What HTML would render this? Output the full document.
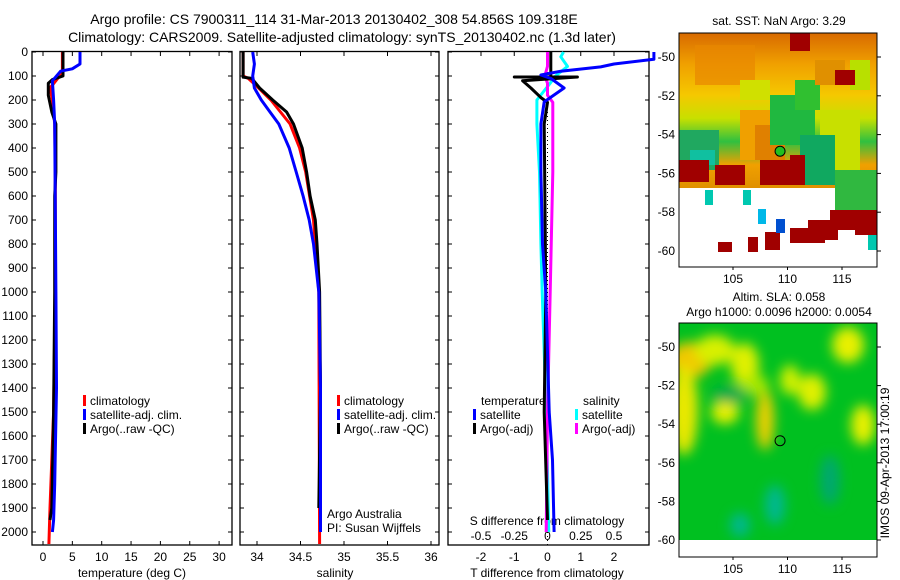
<!DOCTYPE html>
<html><head><meta charset="utf-8"><style>
html,body{margin:0;padding:0;background:#fff;}
svg{display:block;font-family:"Liberation Sans",sans-serif;}
text{font-size:12px;fill:#000;}
</style></head><body>
<svg id="c" width="900" height="580" viewBox="0 0 900 580" xmlns="http://www.w3.org/2000/svg">
<defs>
<linearGradient id="sstg" x1="0" y1="0" x2="0" y2="1">
<stop offset="0" stop-color="#d86a00"/><stop offset="0.2" stop-color="#f0a000"/><stop offset="0.4" stop-color="#f5c800"/><stop offset="0.55" stop-color="#c8e000"/><stop offset="0.7" stop-color="#30c040"/><stop offset="0.85" stop-color="#f0a000"/><stop offset="1" stop-color="#e09000"/>
</linearGradient>
<filter id="bl"><feGaussianBlur stdDeviation="6"/></filter>
<clipPath id="m2c"><rect x="679" y="323" width="198" height="220"/></clipPath>
<clipPath id="m1c"><rect x="679" y="33" width="198" height="234"/></clipPath>
</defs>
<text x="334" y="24" text-anchor="middle" style="font-size:14px">Argo profile: CS 7900311_114 31-Mar-2013 20130402_308 54.856S 109.318E</text>
<text x="342" y="42" text-anchor="middle" style="font-size:14px">Climatology: CARS2009. Satellite-adjusted climatology: synTS_20130402.nc (1.3d later)</text>
<g id="g"></g>
<!-- SST map -->
<g clip-path="url(#m1c)">
<rect x="679" y="33" width="198" height="234" fill="#fff"/>
<rect x="679" y="33" width="198" height="155" fill="url(#sstg)"/>
<rect x="695" y="45" width="60" height="40" fill="#e88800" opacity="0.7"/>
<rect x="740" y="80" width="30" height="20" fill="#d0e000"/>
<rect x="740" y="110" width="40" height="50" fill="#f0a000"/>
<rect x="755" y="125" width="30" height="35" fill="#e08000"/>
<rect x="770" y="95" width="45" height="50" fill="#20b840"/>
<rect x="795" y="80" width="25" height="30" fill="#30c030"/>
<rect x="679" y="130" width="40" height="40" fill="#20a860"/>
<rect x="690" y="150" width="25" height="15" fill="#10c0a0"/>
<rect x="820" y="110" width="40" height="60" fill="#c8e000"/>
<rect x="800" y="135" width="35" height="50" fill="#10a860"/>
<rect x="835" y="170" width="42" height="40" fill="#30b840"/>
<rect x="850" y="60" width="20" height="30" fill="#b8e000"/>
<rect x="815" y="60" width="30" height="25" fill="#e09000"/>
<rect x="679" y="160" width="30" height="22" fill="#a00000"/>
<rect x="715" y="165" width="30" height="20" fill="#a00000"/>
<rect x="760" y="160" width="30" height="25" fill="#a00000"/>
<rect x="790" y="155" width="15" height="30" fill="#a00000"/>
<rect x="790" y="33" width="20" height="18" fill="#a00000"/>
<rect x="835" y="70" width="20" height="15" fill="#a00000"/>
<rect x="855" y="210" width="22" height="25" fill="#a00000"/>
<rect x="830" y="210" width="25" height="20" fill="#a00000"/>
<rect x="808" y="220" width="30" height="20" fill="#a00000"/>
<rect x="790" y="228" width="35" height="15" fill="#a00000"/>
<rect x="765" y="232" width="15" height="18" fill="#a00000"/>
<rect x="718" y="242" width="14" height="10" fill="#a00000"/>
<rect x="748" y="237" width="10" height="15" fill="#a00000"/>
<rect x="705" y="190" width="8" height="15" fill="#00c8b0"/>
<rect x="743" y="190" width="8" height="15" fill="#00c8b0"/>
<rect x="758" y="209" width="8" height="15" fill="#00b8e8"/>
<rect x="776" y="219" width="9" height="14" fill="#0050d0"/>
<rect x="868" y="235" width="9" height="15" fill="#00c8b0"/>
</g>
<!-- SLA map -->
<g clip-path="url(#m2c)">
<rect x="679" y="323" width="198" height="220" fill="#00c020"/>
<g filter="url(#bl)">
<ellipse cx="690" cy="360" rx="22" ry="18" fill="#f0c800"/>
<ellipse cx="684" cy="410" rx="14" ry="45" fill="#e8e800"/>
<ellipse cx="715" cy="350" rx="20" ry="15" fill="#d8f000"/>
<ellipse cx="745" cy="365" rx="14" ry="22" fill="#e0f000"/>
<ellipse cx="725" cy="412" rx="14" ry="12" fill="#e8f000"/>
<ellipse cx="765" cy="420" rx="9" ry="30" fill="#f0d000"/>
<ellipse cx="755" cy="385" rx="14" ry="10" fill="#a8e800"/>
<ellipse cx="790" cy="380" rx="10" ry="15" fill="#d0f000"/>
<ellipse cx="812" cy="392" rx="14" ry="18" fill="#e0f000"/>
<ellipse cx="848" cy="345" rx="16" ry="18" fill="#e8f000"/>
<ellipse cx="863" cy="425" rx="12" ry="20" fill="#e8f000"/>
<ellipse cx="730" cy="395" rx="18" ry="8" fill="#00a850"/>
<ellipse cx="775" cy="505" rx="10" ry="20" fill="#00b890"/>
<ellipse cx="740" cy="525" rx="10" ry="12" fill="#00b890"/>
<ellipse cx="830" cy="480" rx="10" ry="25" fill="#00a870"/>
</g>
<rect x="679" y="540" width="198" height="20" fill="#fff"/>
</g>
</svg>
<script>
// ---- data ----
var depTclim=[0,90,110,150,200,300,500,1000,1500,1900,2050];
var valTclim=[3.3,3.3,2.5,1.2,1.6,2.0,2.1,2.1,1.8,1.2,1.0];
var depTsat=[0,50,70,80,120,200,300,1000,1400,1800,1950,2000];
var valTsat=[6.3,6.3,5.0,3.0,1.6,1.8,2.0,2.2,2.3,2.0,1.8,1.6];
var depTargo=[0,100,115,130,180,250,300,500,600,1000,1500,1900,1950];
var valTargo=[3.4,3.4,1.6,0.9,0.9,1.5,2.2,2.2,2.0,2.0,1.8,1.5,1.2];
var depSclim=[0,100,110,150,200,300,400,500,700,1000,2050];
var valSclim=[33.84,33.84,33.9,34.02,34.16,34.38,34.49,34.56,34.65,34.71,34.72];
var depSsat=[0,50,100,150,200,250,300,400,500,600,700,800,1000,1400,2000];
var valSsat=[33.95,33.97,33.95,33.97,34.05,34.15,34.25,34.37,34.45,34.53,34.6,34.65,34.71,34.73,34.73];
var depSargo=[0,105,110,150,200,250,300,400,500,600,700,800,1000,1400,1900];
var valSargo=[33.84,33.84,33.94,34.03,34.18,34.34,34.42,34.52,34.57,34.61,34.67,34.69,34.72,34.73,34.71];
var depDTsat=[0,30,50,62,80,96,110,150,208,300,500,800,1000,1500,1700,2000];
var valDTsat=[3.2,3.2,2.0,1.6,0.4,-0.2,0.1,0.5,-0.1,-0.2,-0.2,-0.15,-0.05,0.05,0.15,0.2];
var depDTargo=[0,100,104,104,104,120,150,190,210,300,1000,1500,1950];
var valDTargo=[0.1,0.1,0.1,-1.0,0.9,-0.75,-0.5,-0.2,0,-0.1,-0.05,-0.1,0];
var depDSsat=[0,20,60,100,130,200,300,500,800,1000,1500,2000];
var valDSsat=[0.12,0.1,0.15,0.06,0.02,-0.08,-0.08,-0.06,-0.05,-0.04,-0.01,0.01];
var depDSargo=[0,60,100,130,180,210,300,500,1000,1500,2000];
var valDSargo=[0,0,-0.02,0,0,0.04,0.04,0.04,0.02,0,-0.01];
var depthTicks=[0,100,200,300,400,500,600,700,800,900,1000,1100,1200,1300,1400,1500,1600,1700,1800,1900,2000];
var tTicks=[0,5,10,15,20,25,30];
var sTicks=[34,34.5,35,35.5,36];
var dTTicks=[-2,-1,0,1,2];
var dSTicks=[-0.5,-0.25,0,0.25,0.5];
var latTicks=[-50,-52,-54,-56,-58,-60];
var lonTicks=[105,110,115];

// ---- axes ----
var NS='http://www.w3.org/2000/svg';
var G=document.getElementById('g');
function yD(d){return 52+d*0.24;}
function xT(t){return 43+t*5.87;}
function xS(s){return 257+(s-34)*87;}
function xDT(d){return 547.5+d*33.25;}
function xDS(s){return 547.5+s*133;}
function el(tag,attrs,parent){var e=document.createElementNS(NS,tag);for(var k in attrs)e.setAttribute(k,attrs[k]);(parent||G).appendChild(e);return e;}
function txt(x,y,s,anchor,size){var t=el('text',{x:x,y:y,'text-anchor':anchor||'middle'});if(size)t.style.fontSize=size+'px';t.textContent=s;return t;}

function frame(x0,x1,y0,y1,name){
  var r=el('rect',{x:x0,y:y0,width:x1-x0,height:y1-y0,fill:'none',stroke:'#000','stroke-width':1.3});
  
  
}
var P=[[32,232],[240,439],[448,649]];
P.forEach(function(p,i){frame(p[0],p[1],51.5,545,'panel-'+(i+1)+'-frame');
  depthTicks.forEach(function(d){el('line',{x1:p[0],x2:p[0]+4,y1:yD(d),y2:yD(d),stroke:'#000'});el('line',{x1:p[1],x2:p[1]-4,y1:yD(d),y2:yD(d),stroke:'#000'});});
});
depthTicks.forEach(function(d){var t=txt(28,yD(d)+4,String(d),'end');});
tTicks.forEach(function(v){el('line',{x1:xT(v),x2:xT(v),y1:545,y2:541,stroke:'#000'});el('line',{x1:xT(v),x2:xT(v),y1:52,y2:56,stroke:'#000'});var t=txt(xT(v),561,String(v));});
sTicks.forEach(function(v){el('line',{x1:xS(v),x2:xS(v),y1:545,y2:541,stroke:'#000'});el('line',{x1:xS(v),x2:xS(v),y1:52,y2:56,stroke:'#000'});var t=txt(xS(v),561,String(v));});
dTTicks.forEach(function(v){el('line',{x1:xDT(v),x2:xDT(v),y1:52,y2:56,stroke:'#000'});var t=txt(xDT(v),561,String(v));});
dSTicks.forEach(function(v){var t=txt(xDS(v),540,String(v));});
var a;
a=txt(132,577,'temperature (deg C)');
a=txt(335,577,'salinity');
a=txt(547,577,'T difference from climatology');
a=txt(547,525,'S difference from climatology');
el('line',{x1:xDT(0),x2:xDT(0),y1:52,y2:545,stroke:'#000','stroke-dasharray':'1,3'});

function series(dep,val,xf,color,w,name){
  var pts=dep.map(function(d,i){return xf(val[i]).toFixed(1)+','+yD(d).toFixed(1);}).join(' ');
  var p=el('polyline',{points:pts,fill:'none',stroke:color,'stroke-width':w,'stroke-linejoin':'round'});
  
  
}
series(depTclim,valTclim,xT,'#f00',3,'temp-climatology-line');
series(depTargo,valTargo,xT,'#000',3,'temp-argo-line');
series(depTsat,valTsat,xT,'#00f',3,'temp-satellite-line');
series(depSclim,valSclim,xS,'#f00',3,'sal-climatology-line');
series(depSargo,valSargo,xS,'#000',3,'sal-argo-line');
series(depSsat,valSsat,xS,'#00f',3,'sal-satellite-line');
series(depDSsat,valDSsat,xDS,'#0ff',3,'sdiff-satellite-line');
series(depDSargo,valDSargo,xDS,'#f0f',3,'sdiff-argo-line');
series(depDTargo,valDTargo,xDT,'#000',3,'tdiff-argo-line');
series(depDTsat,valDTsat,xDT,'#00f',3,'tdiff-satellite-line');

function leg(x,y,color,label,name){
  el('rect',{x:x,y:y-10,width:3,height:11,fill:color});
  var t=txt(x+7,y,label,'start');
  
  
}
[83,337].forEach(function(x,i){
  leg(x,405,'#f00','climatology','legend-climatology-'+(i+1));
  leg(x,419,'#00f','satellite-adj. clim.','legend-satellite-'+(i+1));
  leg(x,433,'#000','Argo(..raw -QC)','legend-argo-'+(i+1));
});
a=txt(481,405,'temperature','start');
a=txt(583,405,'salinity','start');
leg(473,419,'#00f','satellite','legend-tdiff-satellite');
leg(473,433,'#000','Argo(-adj)','legend-tdiff-argo');
leg(575,419,'#0ff','satellite','legend-sdiff-satellite');
leg(575,433,'#f0f','Argo(-adj)','legend-sdiff-argo');
a=txt(327,518,'Argo Australia','start');
a=txt(327,532,'PI: Susan Wijffels','start');

// ---- maps ----
function yLat1(l){return 57+(-50-l)*19.4;}
function yLat2(l){return 347+(-50-l)*19.3;}
function xLon(l){return 733+(l-105)*10.9;}
var svg=document.getElementById('c');
function mapAxes(y0,y1,yl,name){
  var r=el('rect',{x:679,y:y0,width:198,height:y1-y0,fill:'none',stroke:'#000','stroke-width':1},svg);
  
  
  latTicks.forEach(function(l){el('line',{x1:877,x2:881,y1:yl(l),y2:yl(l),stroke:'#000'},svg);var t=el('text',{x:675,y:yl(l)+4,'text-anchor':'end'},svg);t.textContent=String(l);});
  lonTicks.forEach(function(l){el('line',{x1:xLon(l),x2:xLon(l),y1:y1,y2:y1+3,stroke:'#000'},svg);var t=el('text',{x:xLon(l),y:y1+16,'text-anchor':'middle'},svg);t.textContent=String(l);});
}
mapAxes(33,267,yLat1,'sst-map-frame');
mapAxes(323,557,yLat2,'sla-map-frame');
var argoLat=-54.856, argoLon=109.318;
var c1=el('circle',{cx:xLon(argoLon),cy:yLat1(argoLat),r:5,fill:'#20c020',stroke:'#000'},svg);


var c2=el('circle',{cx:xLon(argoLon),cy:yLat2(argoLat),r:5,fill:'none',stroke:'#000'},svg);


function st(x,y,s,name){var t=el('text',{x:x,y:y,'text-anchor':'middle'},svg);t.textContent=s;return t;}
st(779,25,'sat. SST: NaN Argo: 3.29','sst-map-title');
st(779,301,'Altim. SLA: 0.058','sla-map-title');
st(779,316,'Argo h1000: 0.0096 h2000: 0.0054','sla-map-subtitle');
var v=el('text',{x:0,y:0,'text-anchor':'middle',transform:'translate(889,463) rotate(-90)'},svg);
v.textContent='IMOS 09-Apr-2013 17:00:19';


</script>
</body></html>
